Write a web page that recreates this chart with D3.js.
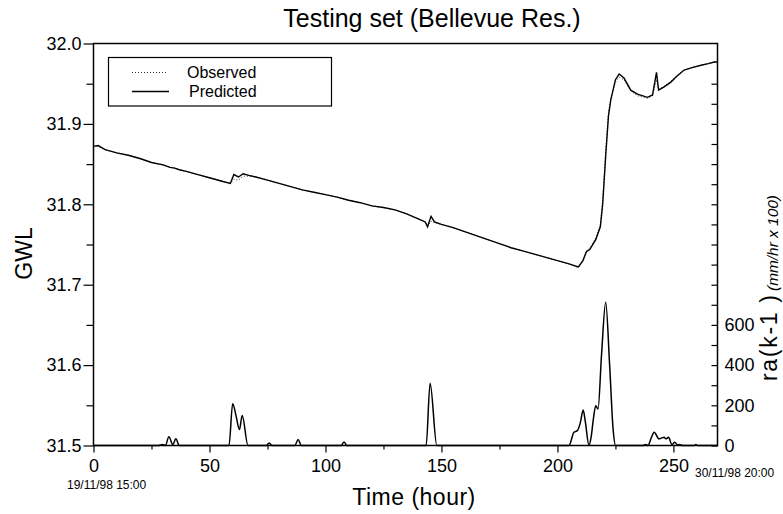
<!DOCTYPE html>
<html>
<head>
<meta charset="utf-8">
<script src="https://cdn.jsdelivr.net/npm/d3@7"></script>
<style>
  body { margin: 0; background: #fff; }
  svg { font-family: "Liberation Sans", Arial, sans-serif; }
</style>
</head>
<body>
<div id="chart"></div>
<script>
// GWL series (hour, level)
const predT = [0, 2, 5, 10, 15, 20, 25, 30, 33, 35, 37, 40, 45, 50, 55, 59, 60.5, 62.5, 64.5, 67, 70, 75, 80, 85, 90, 95, 100, 105, 110, 115, 120, 125, 130, 135, 140, 143, 144, 145.5, 147, 150, 155, 160, 165, 170, 175, 180, 185, 190, 195, 200, 205, 209, 211, 212.5, 214, 216.5, 218.5, 219.5, 220.8, 222, 223, 225, 226.6, 228.7, 231.6, 234.5, 238.8, 241, 242.7, 243.6, 246, 248.9, 251, 254.6, 258, 261.9, 265, 267.6, 269];
const predV = [31.872, 31.873, 31.868, 31.864, 31.861, 31.857, 31.852, 31.849, 31.846, 31.845, 31.843, 31.841, 31.837, 31.833, 31.829, 31.826, 31.837, 31.834, 31.838, 31.836, 31.834, 31.830, 31.826, 31.822, 31.818, 31.815, 31.812, 31.809, 31.805, 31.802, 31.798, 31.796, 31.793, 31.788, 31.782, 31.778, 31.772, 31.785, 31.778, 31.775, 31.771, 31.766, 31.761, 31.756, 31.751, 31.746, 31.742, 31.738, 31.734, 31.730, 31.726, 31.722, 31.730, 31.741, 31.744, 31.756, 31.772, 31.800, 31.860, 31.910, 31.930, 31.955, 31.962, 31.957, 31.942, 31.937, 31.933, 31.936, 31.964, 31.942, 31.946, 31.952, 31.958, 31.967, 31.970, 31.973, 31.975, 31.977, 31.977];
const obsT = [0, 2, 5, 10, 15, 20, 25, 30, 33, 35, 37, 40, 45, 50, 55, 59, 60.5, 62.5, 64.5, 67, 70, 75, 80, 85, 90, 95, 100, 105, 110, 115, 120, 125, 130, 135, 140, 143, 144, 145.5, 147, 150, 155, 160, 165, 170, 175, 180, 185, 190, 195, 200, 205, 209, 211, 212.5, 214, 216.5, 218.5, 219.5, 220.8, 222, 223, 225, 226.6, 228.7, 231.6, 234.5, 238.8, 241, 242.7, 243.6, 246, 248.9, 251, 254.6, 258, 261.9, 265, 267.6, 269];
const obsV = [31.872, 31.872, 31.868, 31.864, 31.861, 31.857, 31.852, 31.849, 31.846, 31.845, 31.843, 31.841, 31.837, 31.833, 31.829, 31.826, 31.831, 31.830, 31.835, 31.835, 31.834, 31.830, 31.826, 31.822, 31.818, 31.815, 31.812, 31.809, 31.805, 31.802, 31.798, 31.796, 31.793, 31.788, 31.782, 31.778, 31.773, 31.779, 31.777, 31.775, 31.771, 31.766, 31.761, 31.756, 31.751, 31.746, 31.742, 31.738, 31.734, 31.730, 31.726, 31.721, 31.731, 31.742, 31.746, 31.758, 31.775, 31.805, 31.866, 31.914, 31.931, 31.952, 31.958, 31.955, 31.941, 31.935, 31.932, 31.935, 31.955, 31.943, 31.947, 31.953, 31.959, 31.967, 31.970, 31.973, 31.975, 31.977, 31.977];

// rainfall ra(k-1), mm/hr x 100
const rainT = [0, 28, 29.8, 31, 32.5, 34.2, 35.5, 37, 58.4, 60, 61.5, 62.9, 64.1, 66.6, 74.5, 75.7, 77, 86.8, 88.2, 89.6, 106.8, 108, 109.2, 143.4, 145.1, 148, 205, 207.1, 208.6, 209.8, 211.1, 212, 213.6, 214.5, 215.5, 216.5, 217.5, 219, 220.8, 222.5, 224, 225.1, 237, 238, 239, 240.5, 241.7, 243.8, 245, 246, 246.7, 247.9, 249.3, 250.6, 251.8, 252.5, 254, 259, 259.7, 260.4, 269];
const rainV = [0, 0, 5, 0, 43, 5, 33, 0, 0, 208, 145, 79, 149, 0, 0, 13, 0, 0, 30, 0, 0, 18, 0, 0, 310, 0, 0, 66, 74, 110, 176, 120, 0, 40, 132, 198, 181, 450, 713, 400, 80, 0, 0, 5, 0, 40, 66, 33, 38, 41, 33, 41, 5, 16, 3, 5, 0, 0, 5, 0, 0];

const xTicks = [0, 50, 100, 150, 200, 250];
const xMinor = [25, 75, 125, 175, 225];
const yTicks = [31.5, 31.6, 31.7, 31.8, 31.9, 32.0];
const yMinor = [31.55, 31.65, 31.75, 31.85, 31.95];
const rainTicks = d3.range(0, 1900, 100);
const rainLabels = [0, 200, 400, 600];

const W = 783, H = 514;
const mLeft = 93.5, mRight = 717.5, mTop = 43.5, mBottom = 445.5;

const svg = d3.select("#chart").append("svg")
  .attr("width", W)
  .attr("height", H);

const x = d3.scaleLinear().domain([0, 269]).range([mLeft, mRight]);
const y = d3.scaleLinear().domain([31.5, 32.0]).range([mBottom, mTop]);
const yRain = d3.scaleLinear().domain([0, 2000]).range([mBottom, mTop]);

// axes
svg.append("g")
  .attr("transform", "translate(" + mLeft + ",0)")
  .call(d3.axisLeft(y).tickValues(yMinor).tickSize(7).tickFormat(""));
svg.append("g")
  .attr("transform", "translate(" + mLeft + ",0)")
  .call(d3.axisLeft(y).tickValues(yTicks).tickSize(10).tickPadding(2).tickFormat(d3.format(".1f")));

svg.append("g")
  .attr("transform", "translate(0," + mBottom + ")")
  .call(d3.axisBottom(x).tickValues(xMinor).tickSize(4).tickFormat(""));
svg.append("g")
  .attr("transform", "translate(0," + mBottom + ")")
  .call(d3.axisBottom(x).tickValues(xTicks).tickSize(7).tickPadding(7));

svg.append("g")
  .attr("transform", "translate(" + mRight + ",0)")
  .call(d3.axisRight(yRain).tickValues(rainTicks).tickSize(-6).tickPadding(7)
    .tickFormat(d => rainLabels.includes(d) ? d : ""));

svg.selectAll(".domain").remove();
svg.selectAll(".tick line").attr("stroke", "#000").attr("stroke-width", 1.2);
svg.selectAll(".tick text").attr("font-size", "18px").attr("fill", "#000")
  .attr("font-family", "Liberation Sans, Arial, sans-serif");

// frame
svg.append("rect")
  .attr("x", mLeft).attr("y", mTop)
  .attr("width", mRight - mLeft).attr("height", mBottom - mTop)
  .attr("fill", "none").attr("stroke", "#000").attr("stroke-width", 1.5);

// rainfall curve
const rainLine = d3.line()
  .x((d, i) => x(rainT[i]))
  .y(d => yRain(d))
  .curve(d3.curveMonotoneX);
svg.append("path")
  .datum(rainV)
  .attr("d", rainLine)
  .attr("fill", "none")
  .attr("stroke", "#000")
  .attr("stroke-width", 1.5);

// observed (dotted) and predicted (solid)
svg.append("path")
  .datum(obsV)
  .attr("d", d3.line().x((d, i) => x(obsT[i])).y(d => y(d)))
  .attr("fill", "none")
  .attr("stroke", "#333")
  .attr("stroke-width", 1)
  .attr("stroke-dasharray", "1,2");
svg.append("path")
  .datum(predV)
  .attr("d", d3.line().x((d, i) => x(predT[i])).y(d => y(d)))
  .attr("fill", "none")
  .attr("stroke", "#000")
  .attr("stroke-width", 1.4);

// legend
const lg = svg.append("g");
lg.append("rect")
  .attr("x", 108.5).attr("y", 57.5).attr("width", 223).attr("height", 48.5)
  .attr("fill", "#fff").attr("stroke", "#000").attr("stroke-width", 1.2);
lg.append("line")
  .attr("x1", 132).attr("x2", 166).attr("y1", 72.5).attr("y2", 72.5)
  .attr("stroke", "#333").attr("stroke-width", 1).attr("stroke-dasharray", "1,2");
lg.append("line")
  .attr("x1", 132).attr("x2", 169).attr("y1", 91.5).attr("y2", 91.5)
  .attr("stroke", "#000").attr("stroke-width", 1.4);
lg.append("text").attr("x", 187).attr("y", 78).attr("font-size", "16px").text("Observed");
lg.append("text").attr("x", 189).attr("y", 97).attr("font-size", "16px").text("Predicted");

// titles and labels
svg.append("text")
  .attr("x", 432).attr("y", 27)
  .attr("text-anchor", "middle")
  .attr("font-size", "25px")
  .text("Testing set (Bellevue Res.)");

svg.append("text")
  .attr("x", 414).attr("y", 505)
  .attr("text-anchor", "middle")
  .attr("font-size", "23px")
  .attr("letter-spacing", "0.5px")
  .text("Time (hour)");

svg.append("text")
  .attr("transform", "translate(32,253.5) rotate(-90)")
  .attr("text-anchor", "middle")
  .attr("font-size", "23px")
  .text("GWL");

// right axis label: plain part and italic units
svg.append("text")
  .attr("transform", "translate(777,381) rotate(-90)")
  .attr("font-size", "23px")
  .attr("textLength", 86)
  .attr("lengthAdjust", "spacing")
  .text("ra(k-1 )");
svg.append("text")
  .attr("transform", "translate(778,291) rotate(-90)")
  .attr("font-size", "15.5px")
  .attr("font-style", "italic")
  .attr("textLength", 96)
  .attr("lengthAdjust", "spacingAndGlyphs")
  .text("(mm/hr x 100)");

svg.append("text")
  .attr("x", 67).attr("y", 489)
  .attr("font-size", "12px")
  .text("19/11/98 15:00");
svg.append("text")
  .attr("x", 695).attr("y", 476.5)
  .attr("font-size", "12px")
  .text("30/11/98 20:00");
</script>
</body>
</html>
